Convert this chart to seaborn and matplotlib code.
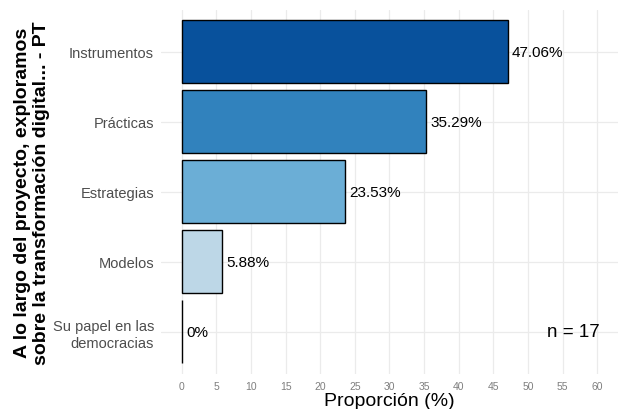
import matplotlib
matplotlib.use("Agg")
import matplotlib.pyplot as plt
import seaborn as sns
import pandas as pd

categories = ["Instrumentos", "Prácticas", "Estrategias", "Modelos", "Su papel en las\ndemocracias"]
values = [47.06, 35.29, 23.53, 5.88, 0.0]
labels = ["47.06%", "35.29%", "23.53%", "5.88%", "0%"]
colors = ["#08519c", "#3182bd", "#6baed6", "#bdd7e7", "#eff3ff"]
xticks = list(range(0, 65, 5))
n_text = "n = 17"

df = pd.DataFrame({"cat": categories, "val": values})

sns.set_theme(style="whitegrid")
plt.rcParams["font.family"] = ["Liberation Sans", "DejaVu Sans"]

fig = plt.figure(figsize=(6.18, 4.10), dpi=100)
ax = fig.add_axes([0.2605, 0.0854, 0.7395, 0.8878])

sns.barplot(data=df, x="val", y="cat", hue="cat", palette=dict(zip(categories, colors)),
            orient="h", width=0.9, edgecolor="black", linewidth=1.0, saturation=1,
            legend=False, ax=ax)

for i, (v, lab) in enumerate(zip(values, labels)):
    ax.text(v + 0.6, i, lab, va="center", ha="left", fontsize=11, color="black")

ax.text(56.5, 4, n_text, va="center", ha="center", fontsize=13.5, color="black")

ax.set_xlim(-3, 63)
ax.set_ylim(4.6, -0.6)
ax.set_xticks(xticks)
ax.set_xticklabels([str(t) for t in xticks], fontsize=7.5, color="#7f7f7f")
ax.tick_params(axis="y", labelsize=10.5, labelcolor="#4d4d4d", length=0, pad=5)
ax.tick_params(axis="x", length=0, pad=5)
ax.set_xlabel("Proporción (%)", fontsize=14, color="black", labelpad=1)
ax.set_ylabel("A lo largo del proyecto, exploramos\nsobre la transformación digital... - PT",
              fontsize=14, fontweight="bold", color="black", labelpad=2, linespacing=1.15)

ax.grid(True, color="#ebebeb", linewidth=0.9)
ax.set_axisbelow(True)
for s in ax.spines.values():
    s.set_visible(False)
ax.set_facecolor("white")

fig.savefig("out.png", dpi=100)
